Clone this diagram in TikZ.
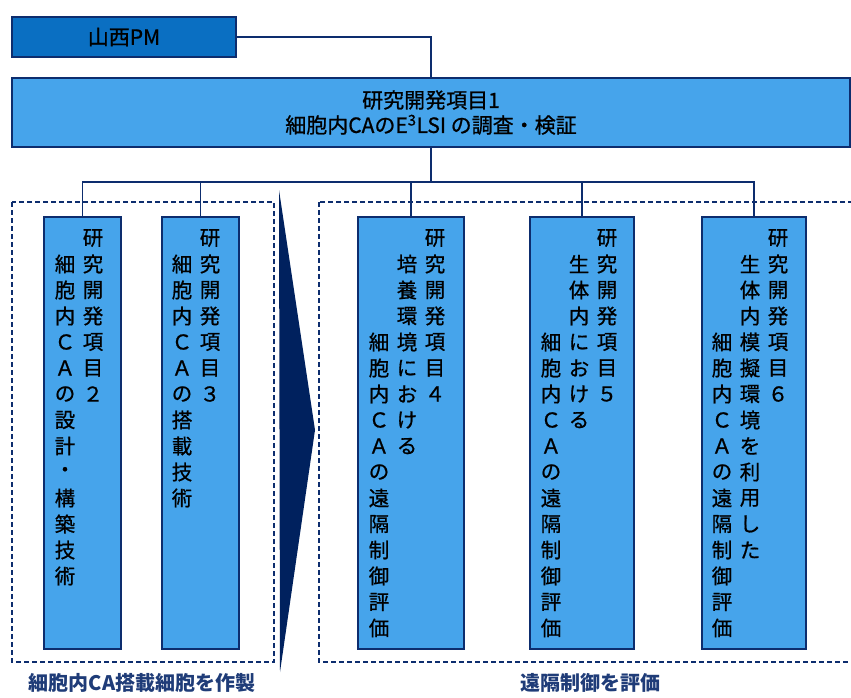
\documentclass[tikz,border=0pt]{standalone}
\usepackage{fontspec}
\setmainfont{Noto Sans CJK JP}
\newfontfamily\jpmed[FakeBold=0.8]{Noto Sans CJK JP}
\definecolor{lb}{HTML}{46A4EB}
\definecolor{pmblue}{HTML}{0A6FC2}
\definecolor{navy}{HTML}{0D2D6E}
\definecolor{tri}{HTML}{00215E}
\definecolor{lblnavy}{HTML}{1F3C78}
\newcommand\vcolumn[4]{%
  \foreach \cc [count=\ii from #3] in {#4} {%
    \node[ch] (#1-\ii) at (#2, {238+(\ii-1)*26}) {\cc};}}
\begin{document}
\begin{tikzpicture}[x=1pt,y=-1pt,
  itembox/.style={draw=navy, line width=2pt, fill=lb, rectangle, inner sep=0pt},
  conn/.style={draw=navy, line width=1.8pt},
  grp/.style={draw=navy, line width=1.3pt, dash pattern=on 5pt off 3pt},
  ch/.style={font=\jpmed\fontsize{20.5}{20.5}\selectfont, inner sep=0pt},
  maintxt/.style={font=\jpmed\fontsize{21}{25}\selectfont, align=center, inner sep=0pt},
  glbl/.style={font=\bfseries\fontsize{20}{20}\selectfont, text=lblnavy, inner sep=0pt}]
\useasboundingbox (0,0) rectangle (851,698);

% group frames
\draw[grp] (12,202) rectangle (274,662);
\draw[grp] (319,202) rectangle (870,662);

% wedge
\fill[tri] (279,190) -- (315,430) -- (280,672) -- cycle;

% top boxes
\node[itembox, fill=pmblue, minimum width=224pt, minimum height=40pt] (pm) at (124,37) {};
\node[ch, font=\jpmed\fontsize{21}{21}\selectfont] (pmtxt) at (pm.center) {山西PM};
\node[itembox, minimum width=838pt, minimum height=69pt] (main) at (431,112.5) {};
\node[maintxt] (maintxt) at (431,112.5) {研究開発項目1\\細胞内CAのE\textsuperscript{3}LSI の調査・検証};

% item boxes
\node[itembox, minimum width=77pt, minimum height=432pt] (b2) at (82.5,433) {};
\node[itembox, minimum width=77pt, minimum height=432pt] (b3) at (200.5,433) {};
\node[itembox, minimum width=106pt, minimum height=432pt] (b4) at (411,433) {};
\node[itembox, minimum width=104pt, minimum height=432pt] (b5) at (582,433) {};
\node[itembox, minimum width=104pt, minimum height=432pt] (b6) at (754,433) {};

% connectors
\coordinate (bus) at (431,182);
\draw[conn] (pm.east) -| (main.north);
\draw[conn] (main.south) -- (bus);
\draw[conn] (b2.north) |- (bus) -| (b6.north);
\draw[conn] (b3.north) -- (b3.north |- bus);
\draw[conn] (b4.north) -- (b4.north |- bus);
\draw[conn] (b5.north) -- (b5.north |- bus);

% vertical texts
\vcolumn{b2r}{93}{1}{研,究,開,発,項,目,２}
\vcolumn{b2l}{65}{2}{細,胞,内,Ｃ,Ａ,の,設,計,・,構,築,技,術}
\vcolumn{b3r}{210}{1}{研,究,開,発,項,目,３}
\vcolumn{b3l}{182}{2}{細,胞,内,Ｃ,Ａ,の,搭,載,技,術}
\vcolumn{b4r}{435}{1}{研,究,開,発,項,目,４}
\vcolumn{b4m}{407}{2}{培,養,環,境,に,お,け,る}
\vcolumn{b4l}{379}{5}{細,胞,内,Ｃ,Ａ,の,遠,隔,制,御,評,価}
\vcolumn{b5r}{607}{1}{研,究,開,発,項,目,５}
\vcolumn{b5m}{579}{2}{生,体,内,に,お,け,る}
\vcolumn{b5l}{551}{5}{細,胞,内,Ｃ,Ａ,の,遠,隔,制,御,評,価}
\vcolumn{b6r}{778}{1}{研,究,開,発,項,目,６}
\vcolumn{b6m}{750}{2}{生,体,内,模,擬,環,境,を,利,用,し,た}
\vcolumn{b6l}{722}{5}{細,胞,内,Ｃ,Ａ,の,遠,隔,制,御,評,価}

% group labels
\node[glbl] (lblA) at (142,683) {細胞内CA搭載細胞を作製};
\node[glbl] (lblB) at (590,683) {遠隔制御を評価};
\end{tikzpicture}
\end{document}
